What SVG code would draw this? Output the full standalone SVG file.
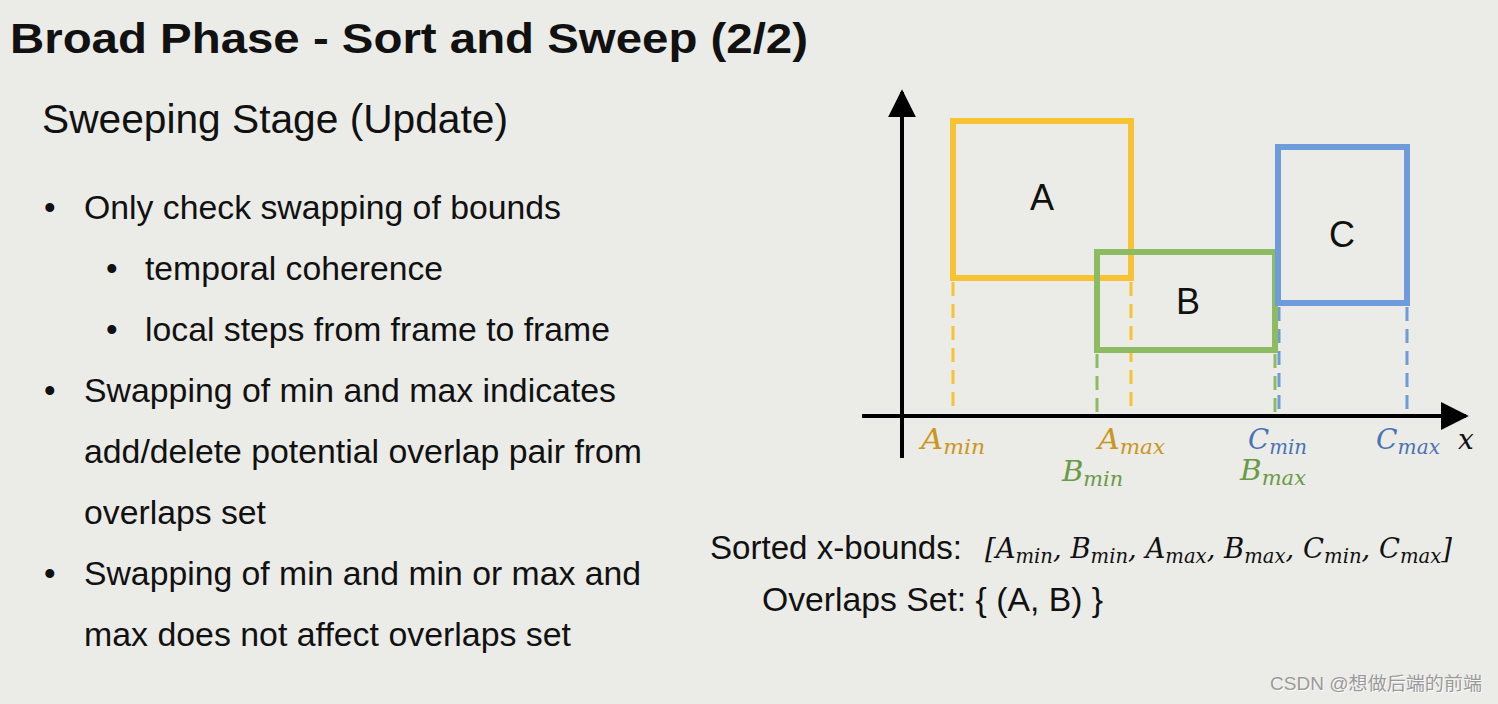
<svg xmlns="http://www.w3.org/2000/svg" width="1498" height="704" viewBox="0 0 1498 704">
<defs>
<style>
.sans{font-family:"Liberation Sans",Arial,sans-serif;fill:#111}
.math{font-family:"DejaVu Serif","Liberation Serif",serif;font-style:italic}
.sub{font-size:20px}
.box{fill:none;stroke-width:6}
.dash{stroke-width:3;stroke-dasharray:14 8;fill:none}
.ya{stroke:#f8c332}.yt{fill:#c9971c}
.gb{stroke:#8dbb62}.gt{fill:#6a9a45}
.bc{stroke:#6e9bd9}.bt{fill:#4a73b3}
</style>
<marker id="arr" viewBox="0 0 10 10" refX="9" refY="5" markerWidth="7" markerHeight="7" orient="auto" markerUnits="strokeWidth"><path d="M0,0 L10,5 L0,10 z" fill="#000"/></marker>
</defs>
<rect width="1498" height="704" fill="#ebebe7"/>
<text class="sans" x="10" y="53" font-size="43" font-weight="bold" textLength="798" lengthAdjust="spacingAndGlyphs">Broad Phase - Sort and Sweep (2/2)</text>
<text class="sans" x="42" y="133" font-size="40" textLength="466" lengthAdjust="spacingAndGlyphs">Sweeping Stage (Update)</text>
<g class="sans" font-size="33">
<text x="44" y="219">•</text><text x="84" y="219" textLength="477" lengthAdjust="spacingAndGlyphs">Only check swapping of bounds</text>
<text x="106" y="280">•</text><text x="145" y="280" textLength="298" lengthAdjust="spacingAndGlyphs">temporal coherence</text>
<text x="106" y="341">•</text><text x="145" y="341" textLength="465" lengthAdjust="spacingAndGlyphs">local steps from frame to frame</text>
<text x="44" y="402">•</text><text x="84" y="402" textLength="532" lengthAdjust="spacingAndGlyphs">Swapping of min and max indicates</text>
<text x="84" y="463" textLength="558" lengthAdjust="spacingAndGlyphs">add/delete potential overlap pair from</text>
<text x="84" y="524" textLength="182" lengthAdjust="spacingAndGlyphs">overlaps set</text>
<text x="44" y="585">•</text><text x="84" y="585" textLength="557" lengthAdjust="spacingAndGlyphs">Swapping of min and min or max and</text>
<text x="84" y="646" textLength="487" lengthAdjust="spacingAndGlyphs">max does not affect overlaps set</text>
</g>
<g id="axes">
<line x1="902" y1="458" x2="902" y2="92" stroke="#000" stroke-width="4" marker-end="url(#arr)"/>
<line x1="862" y1="416" x2="1466" y2="416" stroke="#000" stroke-width="4" marker-end="url(#arr)"/>
<text class="math" x="1458" y="449" font-size="28" fill="#111">x</text>
</g>
<g id="connectors">
<line class="dash ya" x1="953" y1="282" x2="953" y2="414"/>
<line class="dash ya" x1="1131" y1="282" x2="1131" y2="414"/>
<line class="dash gb" x1="1097" y1="354" x2="1097" y2="414"/>
<line class="dash gb" x1="1275" y1="354" x2="1275" y2="414"/>
<line class="dash bc" x1="1279" y1="307" x2="1279" y2="414"/>
<line class="dash bc" x1="1407" y1="307" x2="1407" y2="414"/>
</g>
<g id="nodeA"><rect class="box ya" x="953" y="121" width="178" height="157"/><text class="sans" x="1042" y="210" font-size="36" text-anchor="middle">A</text></g>
<g id="nodeB"><rect class="box gb" x="1097" y="252" width="178" height="98"/><text class="sans" x="1188" y="314" font-size="36" text-anchor="middle">B</text></g>
<g id="nodeC"><rect class="box bc" x="1278" y="147" width="129" height="156"/><text class="sans" x="1342" y="247" font-size="36" text-anchor="middle">C</text></g>
<g class="math" font-size="28">
<text class="yt" x="921" y="449" textLength="64" lengthAdjust="spacingAndGlyphs">A<tspan class="sub" dy="5">min</tspan></text>
<text class="yt" x="1098" y="449" textLength="67" lengthAdjust="spacingAndGlyphs">A<tspan class="sub" dy="5">max</tspan></text>
<text class="gt" x="1062" y="481" textLength="61" lengthAdjust="spacingAndGlyphs">B<tspan class="sub" dy="5">min</tspan></text>
<text class="bt" x="1248" y="449" textLength="59" lengthAdjust="spacingAndGlyphs">C<tspan class="sub" dy="5">min</tspan></text>
<text class="gt" x="1240" y="480" textLength="66" lengthAdjust="spacingAndGlyphs">B<tspan class="sub" dy="5">max</tspan></text>
<text class="bt" x="1376" y="449" textLength="64" lengthAdjust="spacingAndGlyphs">C<tspan class="sub" dy="5">max</tspan></text>
</g>
<text class="sans" x="710" y="559" font-size="33" textLength="252" lengthAdjust="spacingAndGlyphs">Sorted x-bounds:</text>
<text class="math" x="985" y="558" font-size="28" fill="#111" textLength="467" lengthAdjust="spacingAndGlyphs">[A<tspan class="sub" dy="5">min</tspan><tspan dy="-5">, B</tspan><tspan class="sub" dy="5">min</tspan><tspan dy="-5">, A</tspan><tspan class="sub" dy="5">max</tspan><tspan dy="-5">, B</tspan><tspan class="sub" dy="5">max</tspan><tspan dy="-5">, C</tspan><tspan class="sub" dy="5">min</tspan><tspan dy="-5">, C</tspan><tspan class="sub" dy="5">max</tspan><tspan dy="-5">]</tspan></text>
<text class="sans" x="762" y="611" font-size="33" textLength="341" lengthAdjust="spacingAndGlyphs">Overlaps Set: { (A, B) }</text>
<text x="1271" y="691" font-size="18.5" fill="#fff" font-family="'Liberation Sans','Noto Sans CJK SC',sans-serif" opacity="0.8" textLength="212" lengthAdjust="spacingAndGlyphs">CSDN @想做后端的前端</text>
<text x="1270" y="690" font-size="18.5" fill="#9a9a9a" font-family="'Liberation Sans','Noto Sans CJK SC',sans-serif" textLength="212" lengthAdjust="spacingAndGlyphs">CSDN @想做后端的前端</text>
</svg>
